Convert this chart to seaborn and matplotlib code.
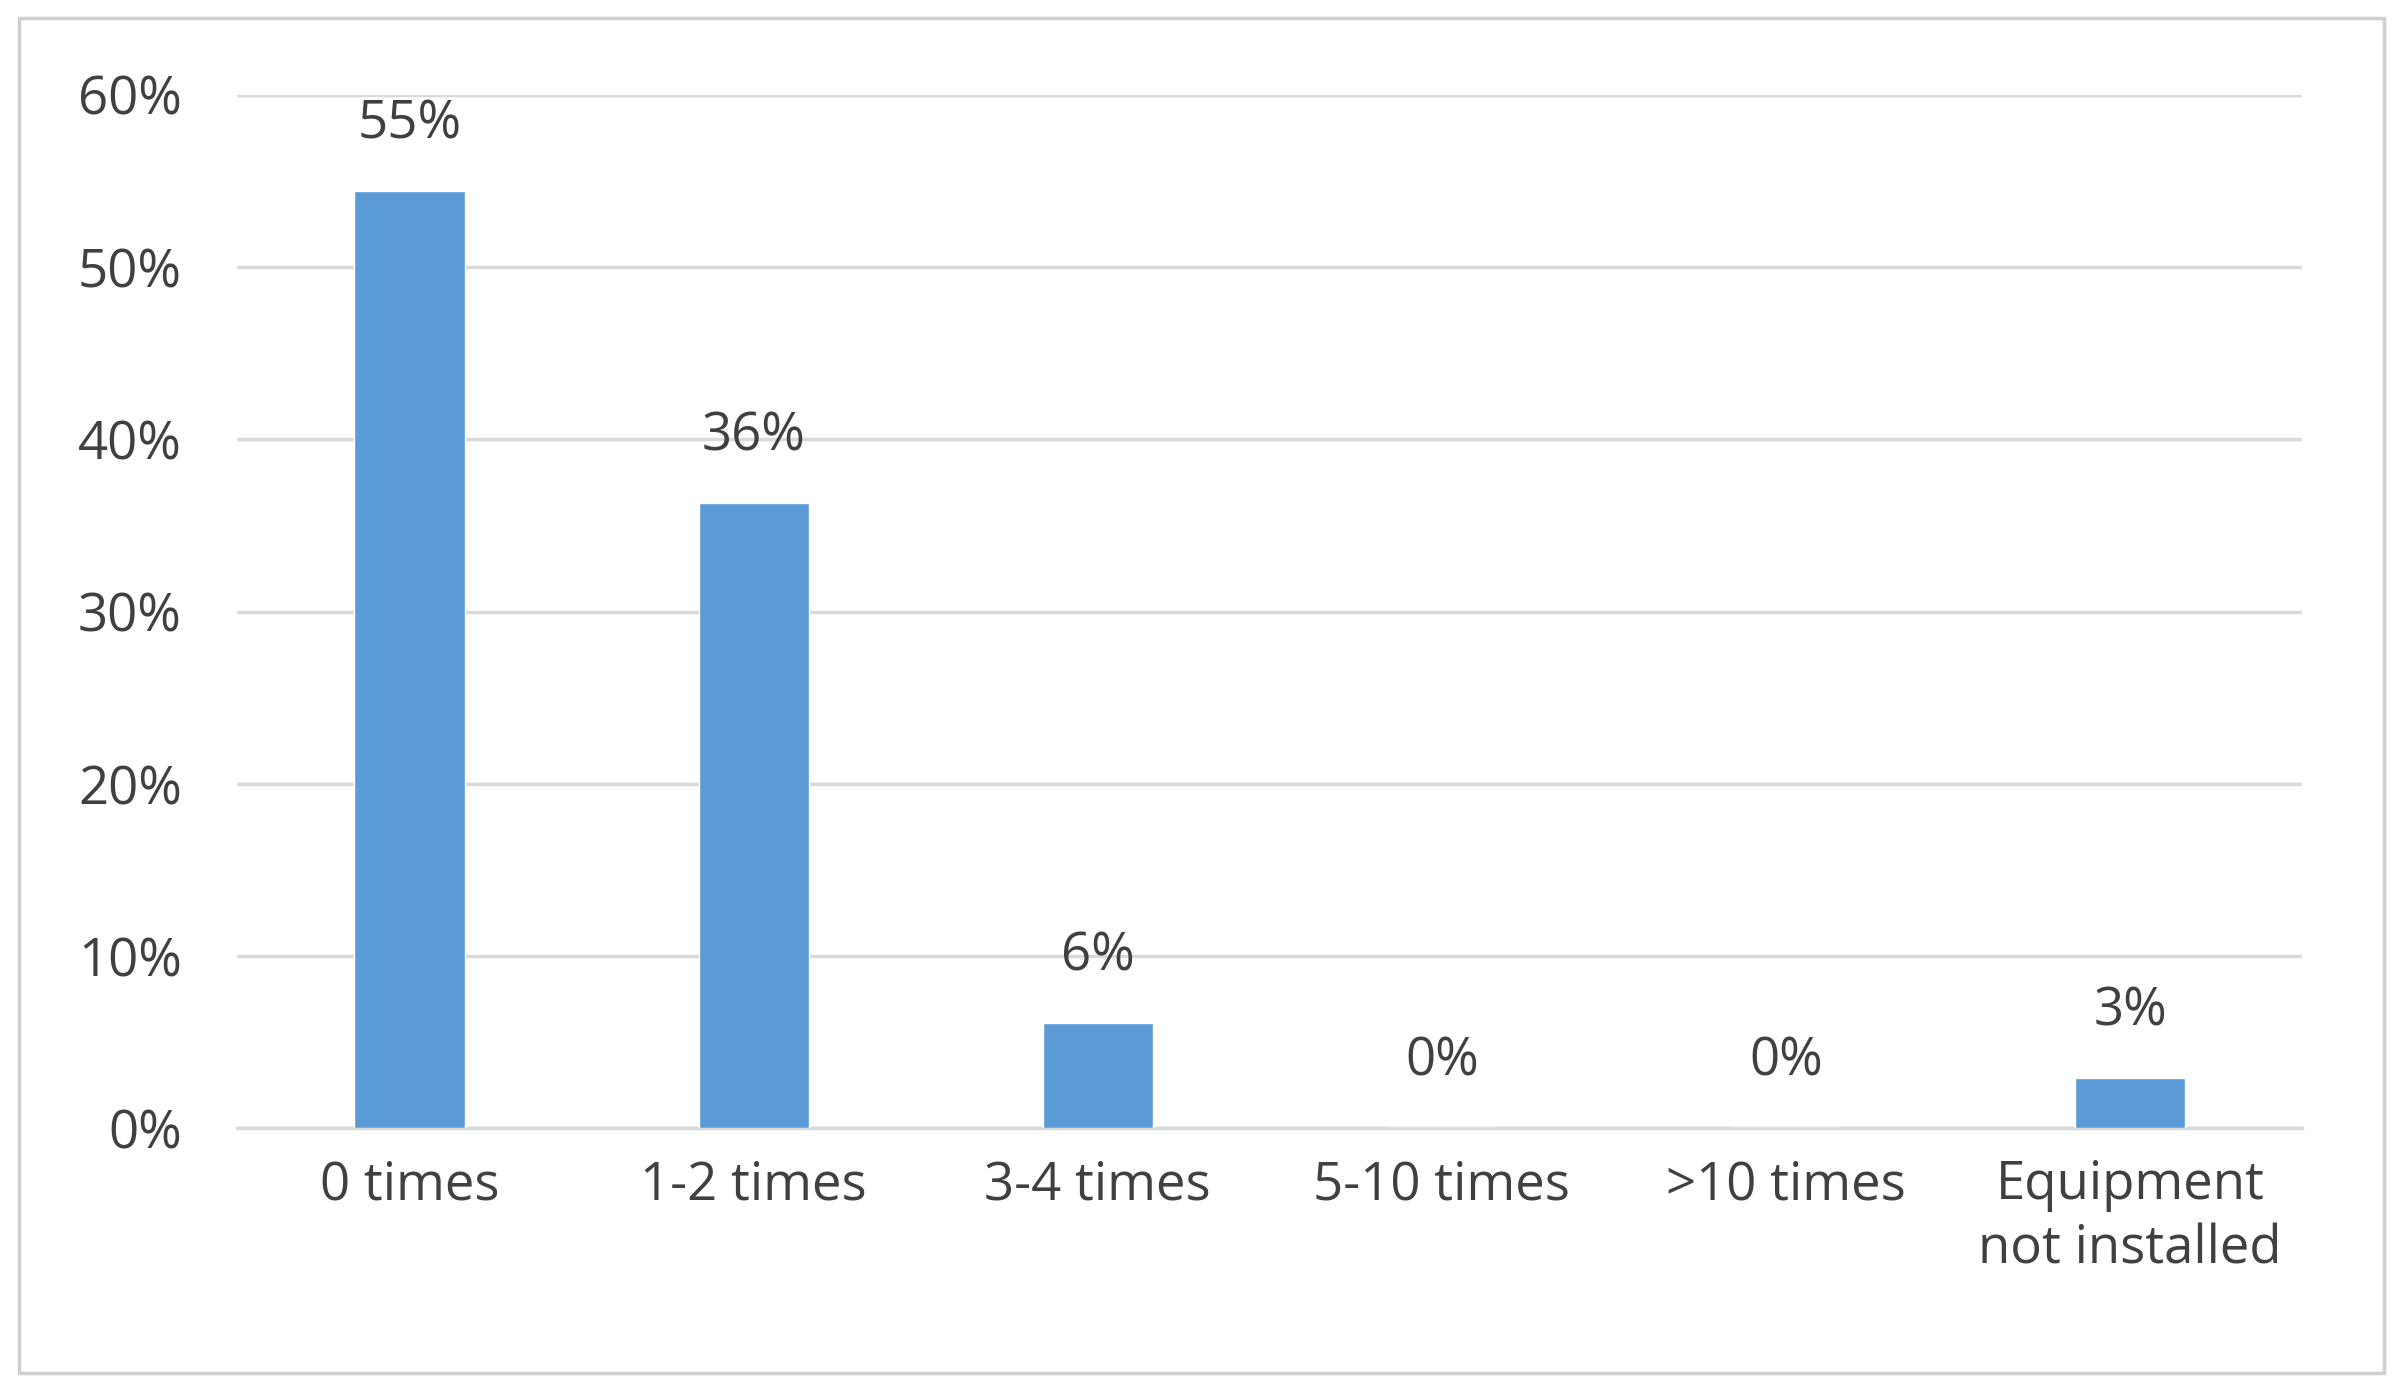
import matplotlib
matplotlib.use("Agg")
import matplotlib.pyplot as plt
import seaborn as sns
import pandas as pd
from matplotlib.patches import Rectangle

categories = ["0 times", "1-2 times", "3-4 times", "5-10 times", ">10 times", "Equipment\nnot installed"]
values = [54.4, 36.3, 6.1, 0.0, 0.0, 2.9]
labels = ["55%", "36%", "6%", "0%", "0%", "3%"]
yticks = [0, 10, 20, 30, 40, 50, 60]

sns.set_theme(style="white")
plt.rcParams['font.family'] = ['Open Sans', 'DejaVu Sans']
txt = "#404040"
fs = 38

fig = plt.figure(figsize=(23.98, 13.93), dpi=100)
ax = fig.add_axes([0.099, 0.19, 0.861, 0.742])
df = pd.DataFrame({"cat": categories, "val": values})
sns.barplot(data=df, x="cat", y="val", color="#5B9BD5", saturation=1, width=0.32, ax=ax, zorder=3)
ax.set_ylim(0, 60)
ax.set_xlim(-0.5, 5.5)
ax.set_yticks(yticks)
ax.set_yticklabels([f"{t}%" for t in yticks], fontsize=fs, color=txt)
ax.tick_params(axis='x', labelsize=fs, colors=txt, length=0, pad=22)
ax.tick_params(axis='y', length=0, pad=40)
for lab in ax.get_xticklabels():
    lab.set_color(txt)
    lab.set_linespacing(1.25)
ax.set_xlabel("")
ax.set_ylabel("")
ax.grid(axis='y', color="#D9D9D9", linewidth=2.5, zorder=0)
for s in ["top", "right", "left"]:
    ax.spines[s].set_visible(False)
ax.spines["bottom"].set_color("#D9D9D9")
ax.spines["bottom"].set_linewidth(2.5)
for i, (v, l) in enumerate(zip(values, labels)):
    ax.text(i, v + 2.3, l, ha="center", va="bottom", fontsize=fs, color=txt)
fig.patches.append(Rectangle((0.008, 0.014), 0.986, 0.973, transform=fig.transFigure,
                             fill=False, edgecolor="#D0D0D0", linewidth=2.5))
fig.savefig("out.png", dpi=100)
